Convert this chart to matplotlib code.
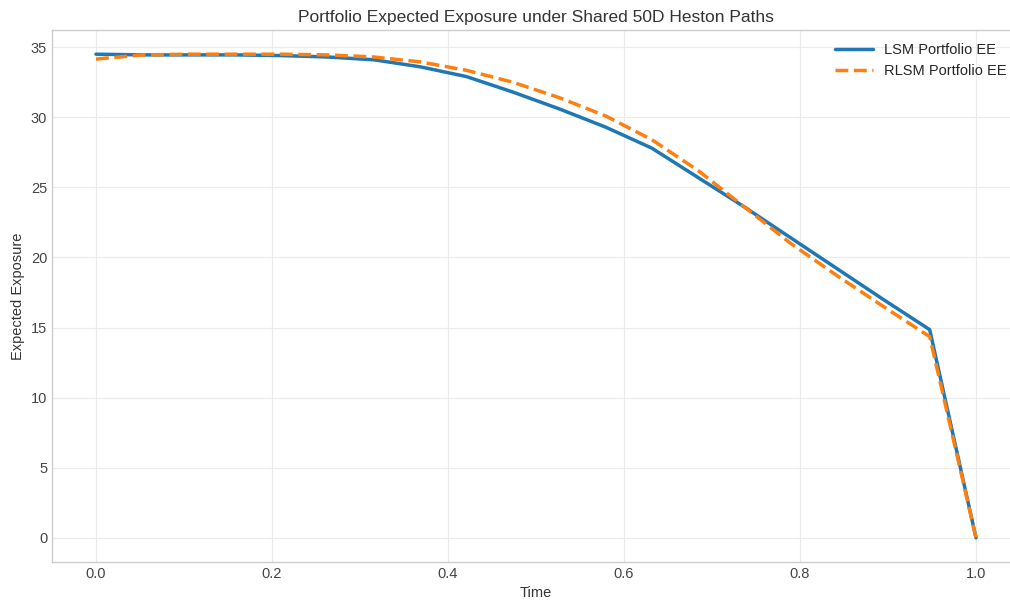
import numpy as np
import matplotlib
matplotlib.use("Agg")
import matplotlib.pyplot as plt

plt.style.use("seaborn-v0_8-whitegrid")
plt.rcParams['font.family'] = ['Liberation Sans', 'DejaVu Sans']

time = np.linspace(0, 1, 20)
lsm_ee = [34.5, 34.45, 34.45, 34.45, 34.4, 34.3, 34.1, 33.6, 32.9, 31.8,
          30.6, 29.3, 27.8, 25.7, 23.6, 21.4, 19.2, 17.0, 14.85, 0.0]
rlsm_ee = [34.15, 34.45, 34.5, 34.5, 34.5, 34.45, 34.3, 33.95, 33.35, 32.5,
           31.4, 30.1, 28.4, 26.2, 23.6, 21.0, 18.7, 16.5, 14.35, 0.0]

fig = plt.figure(figsize=(10.1, 6.01), dpi=100)
ax = fig.add_axes([52 / 1010, 1 - 562 / 601, 968 / 1010, (562 - 30) / 601])

ax.plot(time, lsm_ee, color="#1f77b4", lw=2.5, label="LSM Portfolio EE")
ax.plot(time, rlsm_ee, color="#ff7f0e", lw=2.5, ls="--", label="RLSM Portfolio EE")

ax.set_title("Portfolio Expected Exposure under Shared 50D Heston Paths", fontsize=12.5, color="#333333")
ax.set_xlabel("Time", fontsize=10.5, color="#333333")
ax.set_ylabel("Expected Exposure", fontsize=10.5, color="#333333")
ax.tick_params(labelsize=10.5, labelcolor="#444444")
ax.grid(True, color="#ebebeb", lw=0.8)
ax.legend(loc="upper right", fontsize=10.5, handlelength=2.6)
for s in ax.spines.values():
    s.set_visible(True)
    s.set_color("#cccccc")

fig.savefig("out.png", dpi=100)
